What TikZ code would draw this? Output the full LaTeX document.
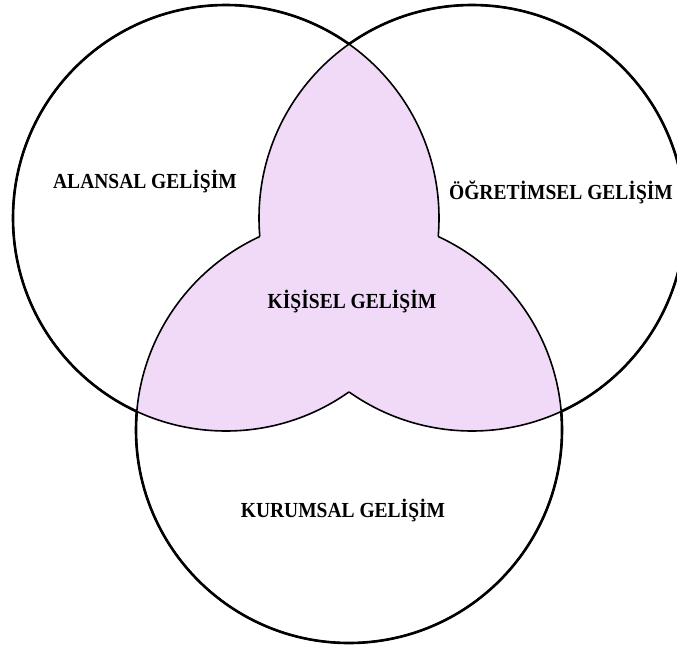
\documentclass[tikz,border=0pt]{standalone}
\usepackage{fontspec}
\setmainfont{Liberation Serif}
\definecolor{lilac}{RGB}{240,218,248}
\newcommand{\tall}[1]{\scalebox{1}[1.1]{#1}}
\begin{document}
\begin{tikzpicture}[x=1pt,y=-1pt,
  lbl/.style={font=\fontsize{19.5}{23}\selectfont\bfseries, anchor=base, inner sep=0pt},
  outerline/.style={line width=2.6pt},
  innerline/.style={line width=1.6pt}]
\useasboundingbox (0,0) rectangle (677,645);
\clip (0,0) rectangle (677,645);
\def\rad{213pt}
\coordinate (L) at (226,218);
\coordinate (R) at (472,218);
\coordinate (B) at (349,430);
% purple: points inside at least two circles
\foreach \a/\b in {L/R, L/B, R/B} {
  \begin{scope}
    \clip (\a) circle (\rad);
    \fill[lilac] (\b) circle (\rad);
  \end{scope}
}
% thin lines: each circle except where inside both others
\foreach \x/\y/\z in {L/R/B, R/L/B, B/L/R} {
  \begin{scope}[even odd rule]
    \clip (-50,-50) rectangle (750,720) (\y) circle (\rad);
    \draw[innerline] (\x) circle (\rad);
  \end{scope}
  \begin{scope}[even odd rule]
    \clip (-50,-50) rectangle (750,720) (\z) circle (\rad);
    \draw[innerline] (\x) circle (\rad);
  \end{scope}
  % thick outer boundary
  \begin{scope}[even odd rule]
    \clip (-50,-50) rectangle (750,720) (\y) circle (\rad);
    \clip (-50,-50) rectangle (750,720) (\z) circle (\rad);
    \draw[outerline] (\x) circle (\rad);
  \end{scope}
}
\node[lbl] (alansal) at (145,188) {\tall{ALANSAL GELİŞİM}};
\node[lbl] (ogretim) at (561,199) {\tall{ÖĞRETİMSEL GELİŞİM}};
\node[lbl] (kisisel) at (352,308) {\tall{KİŞİSEL GELİŞİM}};
\node[lbl] (kurum) at (343,517) {\tall{KURUMSAL GELİŞİM}};
\end{tikzpicture}
\end{document}
